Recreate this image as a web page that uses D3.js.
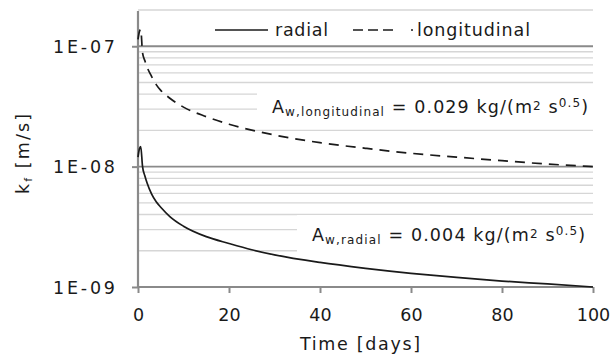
<!DOCTYPE html>
<html>
<head>
<meta charset="utf-8">
<script src="https://cdn.jsdelivr.net/npm/d3@7"></script>
<style>
  body { margin: 0; background: #fff; }
  svg { font-family: "DejaVu Sans", Verdana, sans-serif; }
  .minor { stroke: #d6d6d6; stroke-width: 1.3; }
  .major { stroke: #8a8a8a; stroke-width: 1.8; }
  .axis-line { stroke: #8a8a8a; stroke-width: 2.2; }
  .curve { fill: none; stroke: #1a1a1a; stroke-width: 1.7; }
  .lbl { fill: #1a1a1a; font-size: 17.5px; }
</style>
</head>
<body>
<div id="chart"></div>
<script>

// time in days
var days = [0, 0.3, 0.6, 1, 1.5, 2, 3, 4, 5, 7, 10, 15, 20, 25, 30, 40, 50, 60, 70, 80, 90, 100];

// permeability k_f [m/s]
var radial = [1.2e-8, 1.4e-8, 1.47e-8, 1.0e-8, 8.4e-9, 7.3e-9, 5.9e-9, 5.1e-9, 4.6e-9, 3.85e-9, 3.2e-9,
              2.62e-9, 2.3e-9, 2.04e-9, 1.85e-9, 1.6e-9, 1.43e-9, 1.3e-9, 1.2e-9, 1.12e-9, 1.06e-9, 1.0e-9];
var longitudinal = [1.14e-7, 1.32e-7, 1.38e-7, 8.8e-8, 7.6e-8, 6.7e-8, 5.6e-8, 4.8e-8, 4.3e-8, 3.7e-8, 3.12e-8,
                    2.6e-8, 2.25e-8, 2.01e-8, 1.83e-8, 1.58e-8, 1.42e-8, 1.29e-8, 1.2e-8, 1.12e-8, 1.05e-8, 1.0e-8];

var xTicks = [0, 20, 40, 60, 80, 100];
var yDecades = [1e-9, 1e-8, 1e-7];
var yLabels = ["1E-09", "1E-08", "1E-07"];

var margin = { top: 10, right: 20, bottom: 73, left: 138 };
var width = 613 - margin.left - margin.right,
    height = 360 - margin.top - margin.bottom;

var root = d3.select("#chart").append("svg")
    .attr("width", 613)
    .attr("height", 360);

var svg = root.append("g")
    .attr("transform", "translate(" + margin.left + "," + margin.top + ")");

var x = d3.scaleLinear()
    .domain([0, 100])
    .range([0, width]);

var y = d3.scaleLog()
    .domain([1e-9, 2e-7])
    .range([height, 0]);

// gridlines: 2..9 within each decade
var minorVals = [];
yDecades.forEach(function(d) {
    for (var m = 2; m <= 9; m++) {
        if (d * m <= 2e-7 * 1.0001) minorVals.push(d * m);
    }
});

svg.selectAll(".minor")
    .data(minorVals)
  .enter().append("line")
    .attr("class", "minor")
    .attr("x1", 0).attr("x2", width)
    .attr("y1", d => y(d)).attr("y2", d => y(d));

// annotations (pixel layout, absolute coords)
var notes = [
    { sub: "w,longitudinal", val: "0.029", tx: 272, base: 113, len: 316 },
    { sub: "w,radial", val: "0.004", tx: 312, base: 241, len: 273 }
];

root.selectAll(".notebox")
    .data(notes)
  .enter().append("rect")
    .attr("class", "notebox")
    .attr("fill", "#fff")
    .attr("x", d => d.tx - 15)
    .attr("y", d => d.base - 26)
    .attr("width", d => margin.left + width - d.tx + 15)
    .attr("height", 38);

svg.selectAll(".major")
    .data(yDecades.slice(1))
  .enter().append("line")
    .attr("class", "major")
    .attr("x1", 0).attr("x2", width)
    .attr("y1", d => y(d)).attr("y2", d => y(d));

// axes
var xAxis = d3.axisBottom(x).tickValues(xTicks).tickSize(6).tickFormat(d3.format("d"));
var yAxis = d3.axisLeft(y).tickValues(yDecades).tickSize(6).tickFormat((d, i) => yLabels[i]);

var gx = svg.append("g")
    .attr("transform", "translate(0," + height + ")")
    .call(xAxis);
var gy = svg.append("g").call(yAxis);

[gx, gy].forEach(function(g) {
    g.select(".domain").remove();
    g.selectAll(".tick line").attr("stroke", "#8a8a8a").attr("stroke-width", 2);
    g.selectAll("text")
        .attr("fill", "#1a1a1a")
        .style("font-size", "17.5px")
        .style("font-family", "DejaVu Sans, Verdana, sans-serif");
});
gx.selectAll("text").attr("dy", "1.4em");
gy.selectAll("text")
    .attr("x", -23)
    .attr("dy", "0.36em")
    .attr("textLength", 62)
    .attr("lengthAdjust", "spacing");

svg.append("line").attr("class", "axis-line")
    .attr("x1", 0).attr("x2", 0).attr("y1", 1).attr("y2", height);
svg.append("line").attr("class", "axis-line")
    .attr("x1", 0).attr("x2", width).attr("y1", height).attr("y2", height);

// curves
var line = d3.line()
    .curve(d3.curveMonotoneX)
    .x(d => x(d[0]))
    .y(d => y(d[1]));

svg.append("path")
    .attr("class", "curve")
    .attr("d", line(d3.zip(days, radial)));

svg.append("path")
    .attr("class", "curve")
    .attr("stroke-dasharray", "10,7")
    .attr("d", line(d3.zip(days, longitudinal)));

// annotation texts
var noteText = root.selectAll(".note")
    .data(notes)
  .enter().append("text")
    .attr("class", "note lbl")
    .attr("x", d => d.tx)
    .attr("y", d => d.base)
    .attr("textLength", d => d.len)
    .attr("lengthAdjust", "spacing");

noteText.append("tspan").text("A");
noteText.append("tspan").style("font-size", "12px").attr("dy", 3).text(d => d.sub);
noteText.append("tspan").attr("dy", -3).text(d => " = " + d.val + " kg/(m");
noteText.append("tspan").style("font-size", "12px").attr("dy", -3).text("2");
noteText.append("tspan").attr("dy", 3).text(" s");
noteText.append("tspan").style("font-size", "12px").attr("dy", -6).text("0.5");
noteText.append("tspan").attr("dy", 6).text(")");

// legend (absolute coords)
var legend = root.append("g").attr("transform", "translate(0,30)");
legend.append("line").attr("class", "curve")
    .attr("x1", 215).attr("x2", 268).attr("y1", 0).attr("y2", 0);
legend.append("text").attr("class", "lbl").attr("x", 275).attr("y", 6)
    .attr("textLength", 53).attr("lengthAdjust", "spacing").text("radial");
legend.append("line").attr("class", "curve")
    .attr("stroke-dasharray", "10,5")
    .attr("x1", 353).attr("x2", 394).attr("y1", 0).attr("y2", 0);
legend.append("line").attr("class", "curve")
    .attr("x1", 411).attr("x2", 413).attr("y1", 0).attr("y2", 0);
legend.append("text").attr("class", "lbl").attr("x", 417).attr("y", 6)
    .attr("textLength", 113).attr("lengthAdjust", "spacing").text("longitudinal");

// axis titles
root.append("text")
    .attr("class", "lbl")
    .attr("x", 360)
    .attr("y", 350)
    .attr("text-anchor", "middle")
    .attr("textLength", 120)
    .attr("lengthAdjust", "spacing")
    .text("Time [days]");

var yTitle = root.append("text")
    .attr("class", "lbl")
    .attr("transform", "translate(29,154) rotate(-90)")
    .attr("text-anchor", "middle")
    .attr("textLength", 80)
    .attr("lengthAdjust", "spacing");
yTitle.append("tspan").text("k");
yTitle.append("tspan").style("font-size", "11px").attr("dy", 3).text("f");
yTitle.append("tspan").attr("dy", -3).text(" [m/s]");

</script>
</body>
</html>
